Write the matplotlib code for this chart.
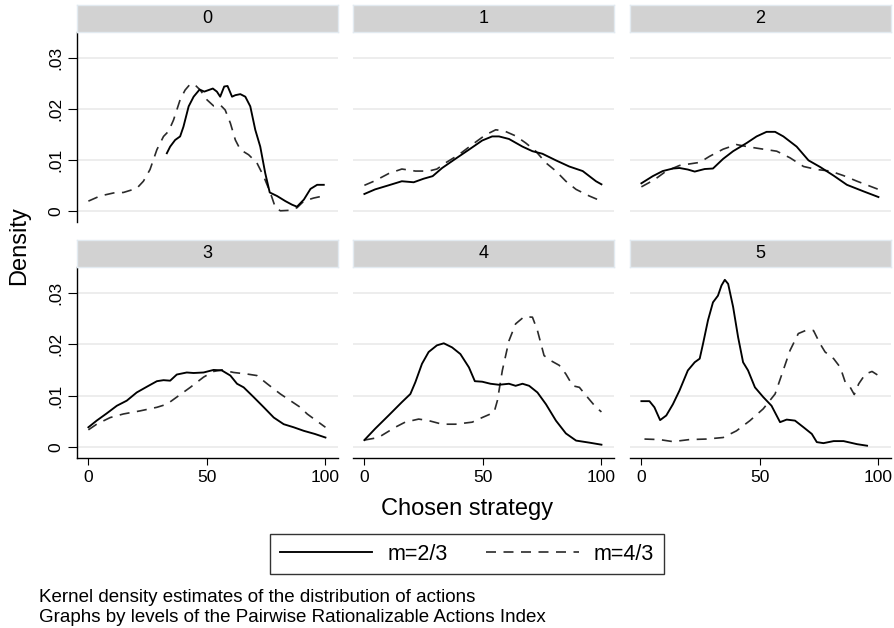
import matplotlib
matplotlib.use('Agg')
import matplotlib.pyplot as plt
from matplotlib.lines import Line2D

plt.rcParams['font.family'] = ['Liberation Sans', 'DejaVu Sans']

# ---------------- data ----------------
panel_titles = ['0', '1', '2', '3', '4', '5']
series_labels = ['m=2/3', 'm=4/3']
x_ticks = [0, 50, 100]
x_tick_labels = ['0', '50', '100']
y_ticks = [0, 0.01, 0.02, 0.03]
y_tick_labels = ['0', '.01', '.02', '.03']
x_title = 'Chosen strategy'
y_title = 'Density'
note_lines = ['Kernel density estimates of the distribution of actions',
              'Graphs by levels of the Pairwise Rationalizable Actions Index']

# panel 0
p0_m23_x = [33.1, 34.5, 36.6, 38.7, 40.1, 42.3, 44.4, 46.9, 48.9, 50.7, 52.5, 54.2, 55.6, 57.3, 58.7,
            60.6, 62.0, 64.1, 66.2, 68.3, 70.4, 72.5, 74.6, 76.5, 79.6, 83.1, 85.9, 88.0, 90.9, 93.7, 96.5, 99.3]
p0_m23_y = [0.0113, 0.0126, 0.0139, 0.0146, 0.0165, 0.0205, 0.0224, 0.0238, 0.0234, 0.0237, 0.0240, 0.0234,
            0.0224, 0.0244, 0.0245, 0.0224, 0.0227, 0.0229, 0.0224, 0.0205, 0.0159, 0.0126, 0.0074, 0.0036,
            0.0029, 0.0019, 0.0012, 0.0008, 0.0022, 0.0043, 0.0051, 0.0051]
p0_m43_x = [0, 4.9, 10.6, 14.8, 17.6, 20.4, 23.2, 26.0, 28.9, 31.7, 33.8, 35.9, 38.7, 40.8, 43.0, 45.0,
            47.2, 50.0, 52.8, 55.6, 57.7, 59.9, 62.0, 64.1, 67.6, 71.1, 73.9, 76.8, 78.9, 81.0, 85.2, 88.0,
            90.9, 95.0, 100]
p0_m43_y = [0.0019, 0.0029, 0.0035, 0.0036, 0.0040, 0.0044, 0.0058, 0.0081, 0.0120, 0.0146, 0.0156, 0.0178,
            0.0218, 0.0237, 0.0249, 0.0247, 0.0237, 0.0218, 0.0206, 0.0208, 0.0198, 0.0172, 0.0139, 0.0120,
            0.0110, 0.0094, 0.0068, 0.0035, 0.0006, 0.0000, 0.0001, 0.0006, 0.0019, 0.0025, 0.0030]

# panel 1
p1_m23_x = [0, 4.5, 10.2, 15.8, 20.8, 25.0, 28.8, 32.8, 38.4, 44.1, 49.7, 53.9, 56.8, 61.0, 66.7, 70.9,
            75.1, 80.8, 86.4, 92.1, 97.7, 100]
p1_m23_y = [0.0033, 0.0042, 0.0050, 0.0058, 0.0056, 0.0063, 0.0068, 0.0084, 0.0102, 0.0120, 0.0138, 0.0146,
            0.0146, 0.0141, 0.0126, 0.0117, 0.0112, 0.0099, 0.0087, 0.0078, 0.0058, 0.0052]
p1_m43_x = [0, 4.5, 10.2, 15.8, 21.5, 27.1, 30.6, 34.2, 39.8, 45.5, 51.1, 55.4, 58.9, 63.8, 68.1, 72.3,
            76.6, 80.8, 85.0, 89.3, 94.9, 100]
p1_m43_y = [0.0050, 0.0059, 0.0073, 0.0082, 0.0078, 0.0078, 0.0082, 0.0094, 0.0110, 0.0130, 0.0149, 0.0159,
            0.0157, 0.0147, 0.0133, 0.0117, 0.0094, 0.0078, 0.0058, 0.0042, 0.0029, 0.0019]

# panel 2
p2_m23_x = [0, 4.8, 9.0, 13.3, 16.1, 19.6, 22.5, 26.7, 30.2, 34.5, 38.7, 44.4, 48.6, 52.8, 56.4, 59.9,
            65.5, 70.5, 75.4, 81.1, 86.7, 93.8, 100]
p2_m23_y = [0.0054, 0.0068, 0.0078, 0.0083, 0.0084, 0.0081, 0.0077, 0.0082, 0.0083, 0.0102, 0.0117, 0.0133,
            0.0146, 0.0155, 0.0155, 0.0146, 0.0126, 0.0099, 0.0086, 0.0069, 0.0051, 0.0038, 0.0027]
p2_m43_x = [0, 5.5, 10.5, 16.1, 20.3, 24.6, 28.8, 34.5, 40.1, 45.8, 51.4, 57.1, 62.7, 68.4, 74.0, 79.7,
            85.3, 91.0, 100]
p2_m43_y = [0.0047, 0.0061, 0.0078, 0.0089, 0.0092, 0.0095, 0.0107, 0.0121, 0.0130, 0.0125, 0.0121, 0.0117,
            0.0104, 0.0087, 0.0081, 0.0078, 0.0069, 0.0058, 0.0042]

# panel 3
p3_m23_x = [0, 3.5, 7.7, 12.0, 16.2, 20.4, 24.6, 28.9, 31.7, 34.5, 37.3, 41.5, 44.4, 48.6, 52.8, 56.3,
            59.9, 62.7, 65.5, 69.7, 74.0, 78.2, 82.4, 86.6, 90.9, 95.5, 100]
p3_m23_y = [0.0038, 0.0051, 0.0065, 0.0080, 0.0090, 0.0106, 0.0117, 0.0128, 0.0130, 0.0129, 0.0141, 0.0145,
            0.0144, 0.0145, 0.0150, 0.0149, 0.0139, 0.0123, 0.0116, 0.0097, 0.0077, 0.0057, 0.0044, 0.0038,
            0.0031, 0.0025, 0.0018]
p3_m43_x = [0, 3.5, 9.2, 14.8, 21.8, 28.9, 33.1, 37.3, 43.0, 48.6, 52.8, 56.3, 61.3, 66.9, 71.1, 75.4,
            81.0, 85.2, 89.4, 92.3, 100]
p3_m43_y = [0.0033, 0.0044, 0.0057, 0.0064, 0.0070, 0.0077, 0.0083, 0.0097, 0.0116, 0.0136, 0.0147, 0.0150,
            0.0145, 0.0142, 0.0139, 0.0123, 0.0103, 0.0090, 0.0077, 0.0064, 0.0038]

# panel 4
p4_m23_x = [0, 4.5, 10.2, 15.8, 19.4, 21.5, 24.3, 27.1, 30.6, 33.5, 37.0, 40.5, 44.1, 46.6, 49.7, 53.2,
            56.8, 61.0, 63.8, 66.7, 69.5, 73.0, 76.6, 80.8, 85.0, 89.3, 94.9, 100]
p4_m23_y = [0.0013, 0.0035, 0.0061, 0.0087, 0.0103, 0.0126, 0.0162, 0.0185, 0.0198, 0.0202, 0.0194, 0.0181,
            0.0155, 0.0128, 0.0127, 0.0123, 0.0121, 0.0123, 0.0119, 0.0123, 0.0119, 0.0106, 0.0083, 0.0051,
            0.0026, 0.0012, 0.0008, 0.0004]
p4_m43_x = [0, 5.9, 13.0, 17.2, 22.9, 27.1, 32.8, 38.4, 45.5, 49.7, 54.7, 56.1, 58.2, 61.0, 63.8, 67.4,
            70.9, 73.0, 75.8, 78.7, 82.2, 85.0, 87.9, 90.7, 93.5, 97.7, 100]
p4_m43_y = [0.0013, 0.0018, 0.0038, 0.0048, 0.0054, 0.0051, 0.0044, 0.0044, 0.0048, 0.0057, 0.0067, 0.0090,
            0.0149, 0.0207, 0.0240, 0.0254, 0.0253, 0.0227, 0.0178, 0.0168, 0.0159, 0.0142, 0.0119, 0.0116,
            0.0100, 0.0077, 0.0068]

# panel 5
p5_m23_x = [0, 3.4, 5.5, 7.9, 10.5, 13.3, 16.1, 19.6, 22.5, 24.6, 26.0, 28.1, 30.2, 32.3, 33.8, 35.2,
            36.6, 38.7, 40.8, 42.9, 45.0, 47.9, 51.4, 54.9, 58.5, 61.3, 64.8, 68.4, 71.9, 74.0, 76.8, 81.1,
            85.3, 91.0, 95.2]
p5_m23_y = [0.0089, 0.0089, 0.0077, 0.0052, 0.0061, 0.0083, 0.0110, 0.0149, 0.0165, 0.0172, 0.0201, 0.0247,
            0.0282, 0.0295, 0.0315, 0.0326, 0.0318, 0.0273, 0.0214, 0.0165, 0.0149, 0.0116, 0.0097, 0.0080,
            0.0048, 0.0053, 0.0051, 0.0038, 0.0025, 0.0009, 0.0007, 0.0011, 0.0011, 0.0005, 0.0002]
p5_m43_x = [1.3, 7.6, 13.3, 20.3, 27.4, 34.5, 40.1, 45.8, 51.4, 56.4, 59.3, 62.7, 66.2, 69.8, 72.6, 75.4,
            77.5, 81.1, 83.9, 86.0, 88.1, 89.8, 91.7, 94.5, 97.3, 100]
p5_m43_y = [0.0015, 0.0014, 0.0010, 0.0014, 0.0015, 0.0018, 0.0031, 0.0051, 0.0074, 0.0103, 0.0142, 0.0188,
            0.0221, 0.0228, 0.0227, 0.0201, 0.0185, 0.0172, 0.0155, 0.0126, 0.0116, 0.0102, 0.0123, 0.0142,
            0.0147, 0.0139]

m23_x = [p0_m23_x, p1_m23_x, p2_m23_x, p3_m23_x, p4_m23_x, p5_m23_x]
m23_y = [p0_m23_y, p1_m23_y, p2_m23_y, p3_m23_y, p4_m23_y, p5_m23_y]
m43_x = [p0_m43_x, p1_m43_x, p2_m43_x, p3_m43_x, p4_m43_x, p5_m43_x]
m43_y = [p0_m43_y, p1_m43_y, p2_m43_y, p3_m43_y, p4_m43_y, p5_m43_y]

# ---------------- layout ----------------
W, H = 895, 628
fig = plt.figure(figsize=(W / 100, H / 100), dpi=100)
fig.patch.set_facecolor('white')


def rect(l, t, r, b):
    return [l / W, 1 - b / H, (r - l) / W, (b - t) / H]


col_l = [77, 353, 630]
col_w = 261
rows = [(32, 222), (267, 458)]
strips = [(5, 32), (240, 267)]

solid_kw = dict(color='black', lw=1.35, solid_joinstyle='round')
dash_kw = dict(color='#2a2a2a', lw=1.2, linestyle=(0, (6, 4.5)))
grid_color = '#e8e8e8'

for i, title in enumerate(panel_titles):
    r, c = divmod(i, 3)
    l = col_l[c]
    t, b = rows[r]
    ax = fig.add_axes(rect(l, t, l + col_w, b))
    ax.set_xlim(-4.8, 105.3)
    ax.set_ylim(-0.0022, 0.0351)
    for v in y_ticks:
        ax.axhline(v, color=grid_color, lw=1.1, zorder=0)
    ax.plot(m43_x[i], m43_y[i], zorder=3, **dash_kw)
    ax.plot(m23_x[i], m23_y[i], zorder=4, **solid_kw)
    for s in ['top', 'right']:
        ax.spines[s].set_visible(False)
    ax.spines['left'].set_visible(c == 0)
    ax.spines['bottom'].set_visible(r == 1)
    ax.spines['left'].set_linewidth(1.0)
    ax.spines['bottom'].set_linewidth(1.0)
    if c == 0:
        ax.set_yticks(y_ticks)
        ax.set_yticklabels(y_tick_labels, rotation=90, va='center', fontsize=12.5)
        ax.tick_params(axis='y', length=6.5, width=0.8, pad=3)
    else:
        ax.set_yticks([])
    if r == 1:
        ax.set_xticks(x_ticks)
        ax.set_xticklabels(x_tick_labels, fontsize=12.5)
        ax.tick_params(axis='x', length=5, width=0.8, pad=3.5)
    else:
        ax.set_xticks([])
    # strip
    st, sb = strips[r]
    sax = fig.add_axes(rect(l, st, l + col_w, sb))
    sax.set_facecolor('#d2d2d2')
    for s in sax.spines.values():
        s.set_color('#e2eaf0')
        s.set_linewidth(1.0)
    sax.set_xticks([])
    sax.set_yticks([])
    sax.text(0.5, 0.5, title, ha='center', va='center', fontsize=13, transform=sax.transAxes)

fig.text(467 / W, 1 - 509 / H, x_title, ha='center', va='center', fontsize=17)
fig.text(19 / W, 1 - 246 / H, y_title, ha='center', va='center', rotation=90, fontsize=17)

handles = [Line2D([], [], **solid_kw), Line2D([], [], **dash_kw)]
leg = fig.legend(handles, series_labels, loc='center', bbox_to_anchor=(467 / W, 1 - 554 / H),
                 ncol=2, frameon=True, fancybox=False, edgecolor='black', fontsize=15.5,
                 handlelength=4.3, handletextpad=0.7, columnspacing=1.8, borderpad=0.45)
leg.get_frame().set_linewidth(1.0)

fig.text(39 / W, 1 - 598 / H, note_lines[0], ha='left', va='center', fontsize=13.5)
fig.text(39 / W, 1 - 618 / H, note_lines[1], ha='left', va='center', fontsize=13.5)

fig.savefig('out.png', dpi=100, facecolor='white')
